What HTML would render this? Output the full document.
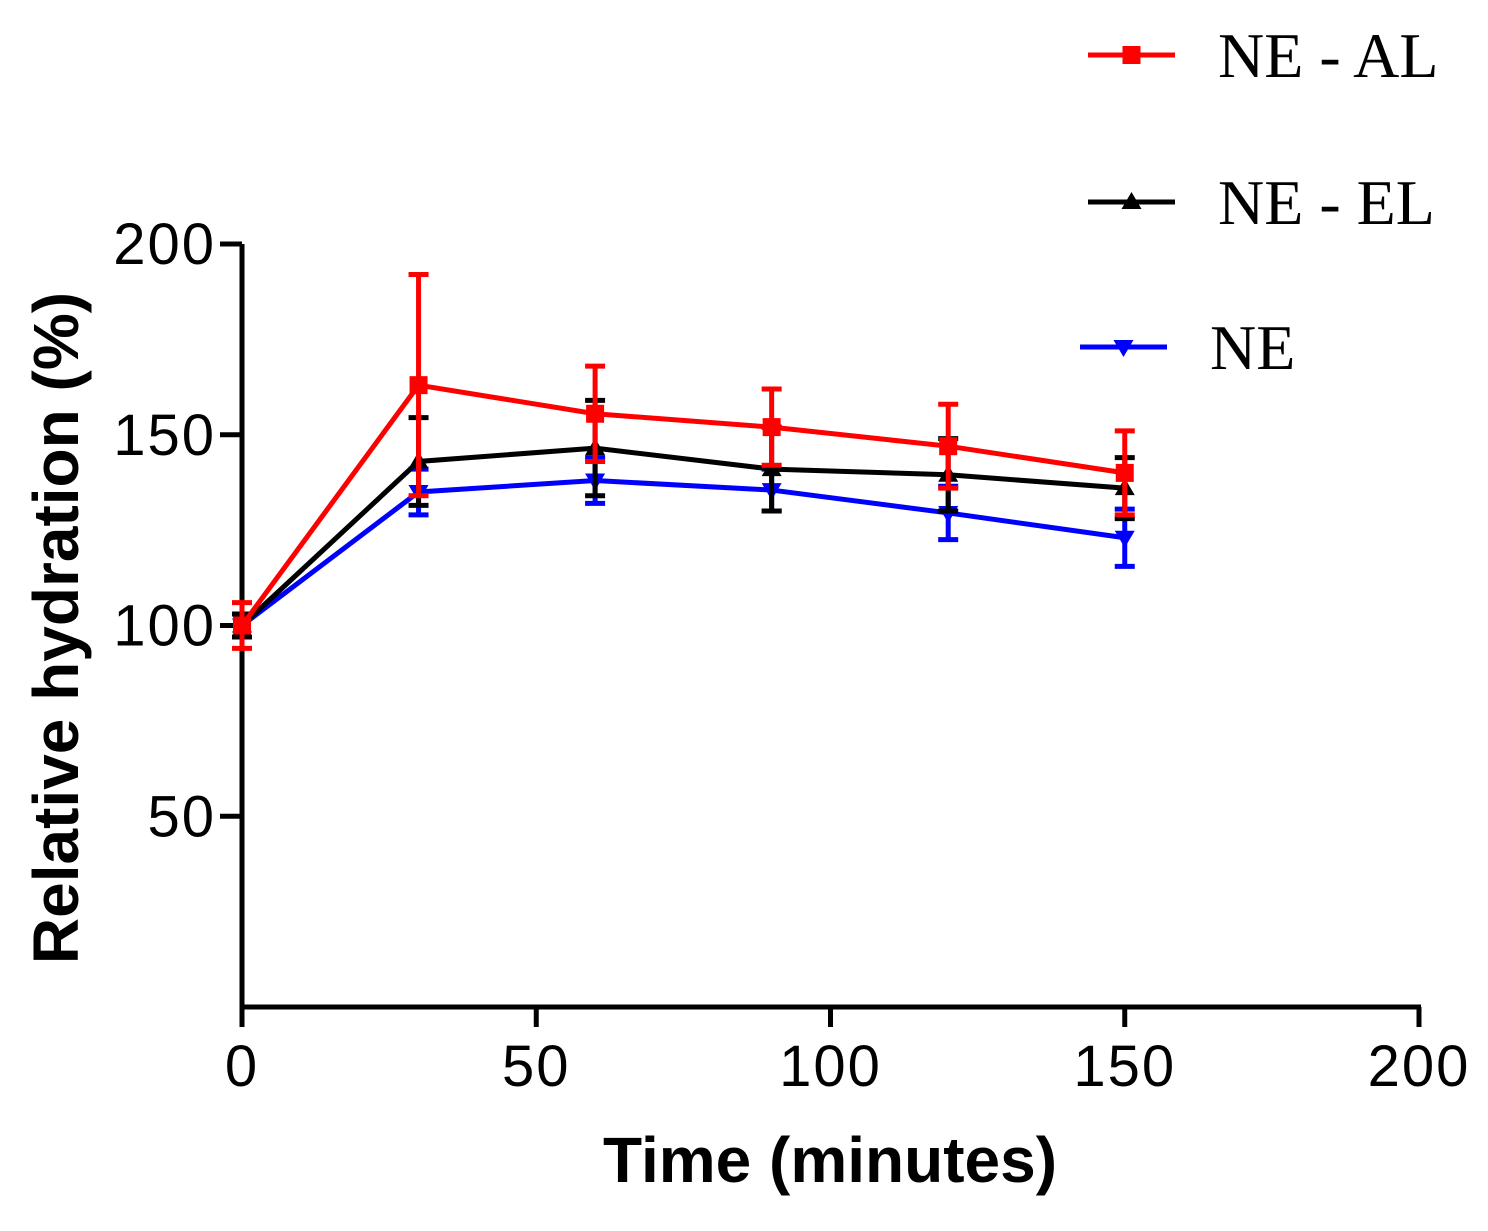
<!DOCTYPE html>
<html><head><meta charset="utf-8"><style>
body{margin:0;background:#fff}
svg text{font-family:"Liberation Sans",Arial,sans-serif}
</style></head><body>
<svg id="chart" width="1488" height="1226" viewBox="0 0 1488 1226">
<g id="axes"></g>
<g id="series"></g>
<g id="legend"></g>
<text x="830" y="1182" font-size="64" font-weight="bold" text-anchor="middle">Time (minutes)</text>
<text transform="translate(78,628) rotate(-90)" font-size="64" font-weight="bold" text-anchor="middle">Relative hydration (%)</text>
</svg>
<script>
const times=[0,30,60,90,120,150];
const alMean=[100,163,155.5,152,147,140];
const alErr=[6,29,12.5,10,11,11];
const elMean=[100,143,146.5,141,139.5,136];
const elErr=[3,11.5,12.5,11,9.5,8];
const neMean=[100,135,138,135.5,129.5,123];
const neErr=[3,6,6,5.5,7,7.5];
const xTicks=[0,50,100,150,200];
const yTicks=[50,100,150,200];
const seriesNames=["NE - AL","NE - EL","NE"];

const NS="http://www.w3.org/2000/svg";
const X=v=>242+v*(1419-242)/200;
const Y=v=>1007-v*(1007-244)/200;
function mk(t,a,p){const e=document.createElementNS(NS,t);for(const k in a)e.setAttribute(k,a[k]);p.appendChild(e);return e;}
const axes=document.getElementById('axes');
let el=mk('line',{x1:242,y1:244,x2:242,y2:1007,stroke:'#000','stroke-width':5},axes);


el=mk('line',{x1:240,y1:1007,x2:1421,y2:1007,stroke:'#000','stroke-width':5},axes);


xTicks.forEach(t=>{
 let l=mk('line',{x1:X(t),y1:1007,x2:X(t),y2:1027,stroke:'#000','stroke-width':5},axes);
 
 
 let tx=mk('text',{x:X(t),y:1086,'font-size':58,'text-anchor':'middle','letter-spacing':2},axes);tx.textContent=t;
 
 
});
yTicks.forEach(t=>{
 let l=mk('line',{x1:220,y1:Y(t),x2:242,y2:Y(t),stroke:'#000','stroke-width':5},axes);
 
 
 let tx=mk('text',{x:216,y:Y(t)+20,'font-size':58,'text-anchor':'end','letter-spacing':2},axes);tx.textContent=t;
 
 
});
function marker(kind,cx,cy,col,p){
 if(kind==='sq')return mk('rect',{x:cx-9,y:cy-9,width:18,height:18,fill:col},p);
 if(kind==='up')return mk('polygon',{points:`${cx},${cy-10} ${cx+10},${cy+7} ${cx-10},${cy+7}`,fill:col},p);
 return mk('polygon',{points:`${cx-10},${cy-7} ${cx+10},${cy-7} ${cx},${cy+10}`,fill:col},p);
}
const sg=document.getElementById('series');
const defs=[[neMean,neErr,'#0000ff','dn','ne'],[elMean,elErr,'#000','up','ne-el'],[alMean,alErr,'#ff0000','sq','ne-al']];
defs.forEach(([m,e,col,k,nm])=>{
 const g=mk('g',{},sg);
 
 
 const pl=mk('polyline',{points:times.map((t,i)=>X(t)+','+Y(m[i])).join(' '),fill:'none',stroke:col,'stroke-width':5},g);
 
 
 times.forEach((t,i)=>{
  const x=X(t),y1=Y(m[i]+e[i]),y2=Y(m[i]-e[i]);
  const eb=mk('path',{d:`M${x},${y1}V${y2}M${x-10},${y1}H${x+10}M${x-10},${y2}H${x+10}`,stroke:col,'stroke-width':5,fill:'none'},g);
  
  
  const mm=marker(k,x,Y(m[i]),col,g);
  
  
 });
});
const lg=document.getElementById('legend');
const legs=[[seriesNames[0],'#ff0000','sq',1088,1175,55,1218],[seriesNames[1],'#000','up',1088,1175,202,1218],[seriesNames[2],'#0000ff','dn',1080,1167,347,1210]];
legs.forEach(([n,col,k,x1,x2,y,tx])=>{
 const g=mk('g',{},lg);
 
 
 mk('line',{x1:x1,y1:y,x2:x2,y2:y,stroke:col,'stroke-width':5},g);
 marker(k,(x1+x2)/2,y,col,g);
 const t=mk('text',{x:tx,y:y+22,'font-size':64},g);
 t.setAttribute('style','font-family:"Liberation Serif",serif');
 t.textContent=n;
});
</script>
</body></html>
